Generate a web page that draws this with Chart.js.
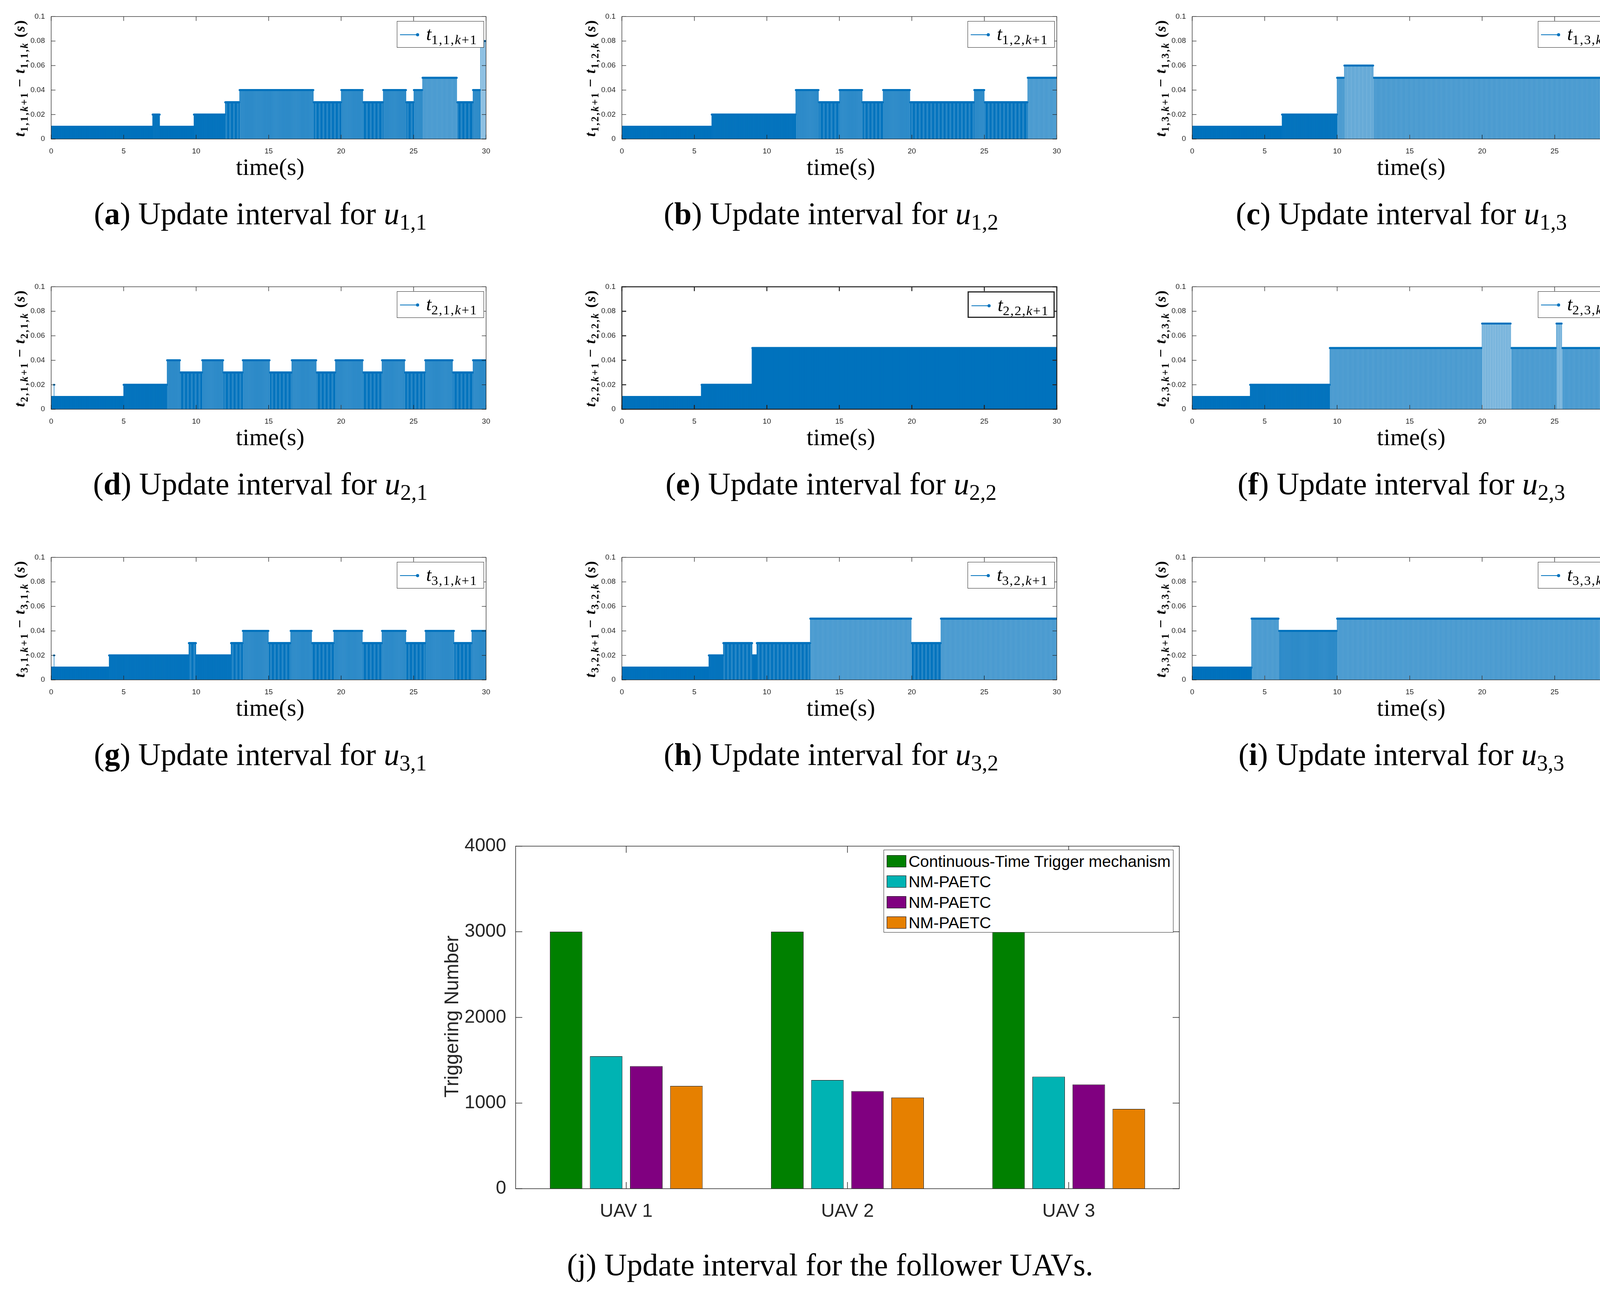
<!DOCTYPE html>
<html>
<head>
<meta charset="utf-8">
<script src="https://cdn.jsdelivr.net/npm/chart.js@4.4.0/dist/chart.umd.min.js"></script>
<style>
  body { margin: 0; background: #fff; }
  #page { position: relative; width: 4200px; height: 3306px; overflow: hidden; background: #fff; }
  .wrap { position: absolute; }
  .cap { position: absolute; transform: translate(-50%, -50%); white-space: nowrap;
         font-family: 'Liberation Serif', serif; font-size: 80px; line-height: 90px; color: #000; }
  .cap sub { font-size: 0.7em; vertical-align: -0.25em; }
  .xt { position: absolute; transform: translate(-50%, -50%); white-space: nowrap;
        font-family: 'Liberation Serif', serif; font-size: 62px; line-height: 70px; color: #000; }
  .yt { position: absolute; transform: translate(-50%, -50%) rotate(-90deg); white-space: nowrap;
        font-family: 'Liberation Serif', serif; font-weight: bold; font-size: 38px; line-height: 46px;
        letter-spacing: 2px; color: #000; }
  .yt sub { font-size: 0.7em; vertical-align: -0.3em; letter-spacing: 3px; }
  .leg { position: absolute; box-sizing: border-box; border: 1.5px solid #262626; background: #fff; }
  .leg .ln { position: absolute; left: 7px; top: 33px; width: 45px; height: 2px; background: #0072BD; }
  .leg .dot { position: absolute; left: 48px; top: 30px; width: 8px; height: 8px; border-radius: 50%; background: #0072BD; }
  .leg .tx { position: absolute; left: 74px; top: 4px; white-space: nowrap;
             font-family: 'Liberation Serif', serif; font-size: 48px; line-height: 56px; color: #000; }
  .leg .tx sub { font-size: 0.72em; vertical-align: -0.3em; letter-spacing: 2px; }
  .bleg { position: absolute; left: 2262px; top: 2176px; width: 742px; height: 212px; box-sizing: border-box;
          border: 1.5px solid #262626; background: #fff; }
  .bleg .row { position: absolute; left: 7px; height: 40px; }
  .bleg .sw { position: absolute; left: 0; top: 4px; width: 50px; height: 31px; box-sizing: border-box; border: 1.5px solid #000; }
  .bleg .lb { position: absolute; left: 56px; top: 0; white-space: nowrap;
              font-family: 'Liberation Sans', Arial, sans-serif; font-size: 41px; line-height: 40px; color: #000; }
  .btitle { position: absolute; transform: translate(-50%, -50%) rotate(-90deg); white-space: nowrap;
            font-family: 'Liberation Sans', Arial, sans-serif; font-size: 50px; line-height: 56px; color: #262626; }
</style>
</head>
<body>
<div id="page"></div>
<script>
// Stem panels: each segment starts at edges[i] (s) and keeps the update interval levels[i] (s)
const edges_u11 = [0, 7.0, 7.5, 9.85, 12.0, 13.0, 18.1, 20.0, 21.5, 22.9, 24.5, 25.0, 25.6, 28.0, 29.1, 29.6];
const levels_u11 = [0.01, 0.02, 0.01, 0.02, 0.03, 0.04, 0.03, 0.04, 0.03, 0.04, 0.03, 0.04, 0.05, 0.03, 0.04, 0.08];

const edges_u12 = [0, 6.2, 12.0, 13.6, 15.0, 16.6, 18.0, 19.9, 24.3, 25.0, 28.0];
const levels_u12 = [0.01, 0.02, 0.04, 0.03, 0.04, 0.03, 0.04, 0.03, 0.04, 0.03, 0.05];

const edges_u13 = [0, 6.2, 10.0, 10.5, 12.5];
const levels_u13 = [0.01, 0.02, 0.05, 0.06, 0.05];

const edges_u21 = [0, 0.2, 0.22, 5.0, 8.0, 8.9, 10.4, 11.9, 13.2, 15.1, 16.6, 18.3, 19.6, 21.5, 22.8, 24.4, 25.8, 27.7, 29.1];
const levels_u21 = [0.01, 0.02, 0.01, 0.02, 0.04, 0.03, 0.04, 0.03, 0.04, 0.03, 0.04, 0.03, 0.04, 0.03, 0.04, 0.03, 0.04, 0.03, 0.04];

const edges_u22 = [0, 5.5, 9.0];
const levels_u22 = [0.01, 0.02, 0.05];

const edges_u23 = [0, 4.0, 9.5, 20.0, 22.0, 25.1, 25.5];
const levels_u23 = [0.01, 0.02, 0.05, 0.07, 0.05, 0.07, 0.05];

const edges_u31 = [0, 0.2, 0.22, 4.0, 9.5, 10.0, 12.4, 13.2, 15.0, 16.5, 18.0, 19.5, 21.5, 22.8, 24.5, 25.8, 27.8, 29.0];
const levels_u31 = [0.01, 0.02, 0.01, 0.02, 0.03, 0.02, 0.03, 0.04, 0.03, 0.04, 0.03, 0.04, 0.03, 0.04, 0.03, 0.04, 0.03, 0.04];

const edges_u32 = [0, 6.0, 7.0, 9.0, 9.3, 13.0, 20.0, 22.0];
const levels_u32 = [0.01, 0.02, 0.03, 0.02, 0.03, 0.05, 0.03, 0.05];

const edges_u33 = [0, 4.1, 6.0, 10.0];
const levels_u33 = [0.01, 0.05, 0.04, 0.05];

const timeEnd = 30;
const xTicks = [0, 5, 10, 15, 20, 25, 30];
const yTicks = [0, 0.02, 0.04, 0.06, 0.08, 0.1];

// Bar chart (j)
const uavLabels = ["UAV 1", "UAV 2", "UAV 3"];
const seriesNames = ["Continuous-Time Trigger mechanism", "NM-PAETC", "NM-PAETC", "NM-PAETC"];
const continuousTrig = [3000, 3000, 3000];
const paetcA = [1547, 1269, 1308];
const paetcB = [1431, 1139, 1216];
const paetcC = [1199, 1065, 931];
const barTicks = [0, 1000, 2000, 3000, 4000];

const blue = "#0072BD";
const barColors = ["#008000", "#00B3B3", "#800080", "#E68000"];

// turn the interval segments into trigger events t_k with height t_{k+1} - t_k
function expandStems(edges, levels) {
	const stems = [{ x: 0, y: 0 }];
	let t = 0;
	for (let i = 0; i < levels.length; i++) {
		const end = i + 1 < edges.length ? edges[i + 1] : timeEnd;
		while (t < end - 1e-9) {
			stems.push({ x: t, y: levels[i] });
			t += levels[i];
		}
	}
	return stems;
}

// MATLAB style box with inward ticks on every side
const insideTicks = {
	id: "insideTicks",
	beforeDatasetsDraw(chart, args, opts) {
		if (opts.layer === "below") drawTicks(chart, opts);
	},
	afterDatasetsDraw(chart, args, opts) {
		if (opts.layer !== "below") drawTicks(chart, opts);
		const a = chart.chartArea;
		const ctx = chart.ctx;
		ctx.save();
		ctx.strokeStyle = "#262626";
		ctx.lineWidth = opts.width;
		ctx.strokeRect(a.left, a.top, a.right - a.left, a.bottom - a.top);
		ctx.restore();
	}
};

function drawTicks(chart, opts) {
	const { ctx, chartArea: a, scales } = chart;
	const L = opts.len;
	ctx.save();
	ctx.strokeStyle = "#262626";
	ctx.lineWidth = opts.width;
	ctx.beginPath();
	scales.x.ticks.forEach((t, i) => {
		const px = scales.x.getPixelForTick(i);
		ctx.moveTo(px, a.bottom);
		ctx.lineTo(px, a.bottom - L);
		ctx.moveTo(px, a.top);
		ctx.lineTo(px, a.top + L);
	});
	scales.y.ticks.forEach((t, i) => {
		const py = scales.y.getPixelForTick(i);
		ctx.moveTo(a.left, py);
		ctx.lineTo(a.left + L, py);
		ctx.moveTo(a.right, py);
		ctx.lineTo(a.right - L, py);
	});
	ctx.stroke();
	ctx.restore();
}

Chart.register(insideTicks);

const page = document.getElementById("page");

function addDiv(cls, html, left, top, style) {
	const d = document.createElement("div");
	d.className = cls;
	d.innerHTML = html;
	d.style.left = left + "px";
	d.style.top = top + "px";
	if (style) Object.assign(d.style, style);
	page.appendChild(d);
	return d;
}

/* ==============================
Stem panels (a) - (i)
=================================*/

const colLeft = [131, 1592, 3052];
const rowTop = [38, 730, 1423];
const plotW = 1121;
const plotH = 318;

const panels = [
	{ letter: "a", i: 1, j: 1, edges: edges_u11, levels: levels_u11 },
	{ letter: "b", i: 1, j: 2, edges: edges_u12, levels: levels_u12 },
	{ letter: "c", i: 1, j: 3, edges: edges_u13, levels: levels_u13 },
	{ letter: "d", i: 2, j: 1, edges: edges_u21, levels: levels_u21 },
	{ letter: "e", i: 2, j: 2, edges: edges_u22, levels: levels_u22, heavy: true },
	{ letter: "f", i: 2, j: 3, edges: edges_u23, levels: levels_u23 },
	{ letter: "g", i: 3, j: 1, edges: edges_u31, levels: levels_u31 },
	{ letter: "h", i: 3, j: 2, edges: edges_u32, levels: levels_u32 },
	{ letter: "i", i: 3, j: 3, edges: edges_u33, levels: levels_u33 }
];

panels.forEach((p, n) => {
	const pl = colLeft[n % 3];
	const pt = rowTop[Math.floor(n / 3)];
	const wrap = addDiv("wrap", "", pl - 80, pt - 15, { width: plotW + 95 + "px", height: plotH + 65 + "px" });
	const canvas = document.createElement("canvas");
	wrap.appendChild(canvas);
	const stems = expandStems(p.edges, p.levels);

	new Chart(canvas.getContext("2d"), {
		type: "bar",
		data: {
			datasets: [
				{
					type: "bar",
					data: stems,
					backgroundColor: blue,
					barThickness: p.heavy ? 2.6 : 0.65,
					borderWidth: 0
				},
				{
					type: "line",
					data: stems,
					showLine: false,
					pointRadius: 2.6,
					pointBorderWidth: 0,
					pointBackgroundColor: blue,
					pointHoverRadius: 0
				}
			]
		},
		options: {
			responsive: true,
			maintainAspectRatio: false,
			devicePixelRatio: 1,
			animation: false,
			events: [],
			layout: { padding: { top: 15, right: 15, left: 0, bottom: 0 } },
			plugins: {
				legend: { display: false },
				tooltip: { enabled: false },
				insideTicks: { len: 11, width: p.heavy ? 2.6 : 1.3 }
			},
			scales: {
				x: {
					type: "linear",
					min: 0,
					max: timeEnd,
					offset: false,
					grid: { display: false },
					border: { display: false },
					afterBuildTicks: s => { s.ticks = xTicks.map(v => ({ value: v })); },
					afterFit: s => { s.height = 50; },
					ticks: { padding: 12, color: "#262626", font: { family: "Liberation Sans", size: 19 } }
				},
				y: {
					min: 0,
					max: 0.1,
					grid: { display: false },
					border: { display: false },
					afterBuildTicks: s => { s.ticks = yTicks.map(v => ({ value: v })); },
					afterFit: s => { s.width = 80; },
					ticks: {
						padding: 8,
						color: "#262626",
						font: { family: "Liberation Sans", size: 19 },
						callback: v => String(+v.toFixed(2))
					}
				}
			}
		}
	});

	const sub = p.i + "," + p.j;
	// legend box
	const leg = addDiv("leg",
		'<div class="ln"></div><div class="dot"></div>' +
		'<div class="tx"><i>t</i><sub>' + sub + ",<i>k</i>+1</sub></div>",
		pl + plotW - 13 - 223, pt + 16, { width: "223px", height: "68px" });
	if (p.heavy) leg.style.borderWidth = "3px";

	addDiv("yt", "<i>t</i><sub>" + sub + ",<i>k</i>+1</sub> &minus; <i>t</i><sub>" + sub + ",<i>k</i></sub> (<i>s</i>)",
		pl - 75, pt + 162);
	addDiv("xt", "time(s)", pl + plotW / 2, pt + 389);
	addDiv("cap", "(<b>" + p.letter + "</b>) Update interval for <i>u</i><sub>" + sub + "</sub>",
		pl + plotW / 2 - 25, pt + 520);
});

/* ==============================
Bar chart (j)
=================================*/

const bl = 1320, bt = 2162, bw = 1699, bh = 882;
const bwrap = addDiv("wrap", "", bl - 130, bt - 40, { width: bw + 155 + "px", height: bh + 120 + "px" });
const bcanvas = document.createElement("canvas");
bwrap.appendChild(bcanvas);

const barSeries = [continuousTrig, paetcA, paetcB, paetcC];

new Chart(bcanvas.getContext("2d"), {
	type: "bar",
	data: {
		labels: uavLabels,
		datasets: barSeries.map((d, k) => ({
			label: seriesNames[k],
			data: d,
			backgroundColor: barColors[k],
			borderColor: "#000",
			borderWidth: 1.2,
			categoryPercentage: 0.725,
			barPercentage: 0.81
		}))
	},
	options: {
		responsive: true,
		maintainAspectRatio: false,
		devicePixelRatio: 1,
		animation: false,
		events: [],
		layout: { padding: { top: 40, right: 25, left: 0, bottom: 0 } },
		plugins: {
			legend: { display: false },
			tooltip: { enabled: false },
			insideTicks: { len: 17, width: 1.5, layer: "below" }
		},
		scales: {
			x: {
				grid: { display: false },
				border: { display: false },
				afterFit: s => { s.height = 80; },
				ticks: { padding: 22, color: "#262626", font: { family: "Liberation Sans", size: 48 } }
			},
			y: {
				min: 0,
				max: 4000,
				grid: { display: false },
				border: { display: false },
				afterBuildTicks: s => { s.ticks = barTicks.map(v => ({ value: v })); },
				afterFit: s => { s.width = 130; },
				ticks: {
					padding: 16,
					color: "#262626",
					font: { family: "Liberation Sans", size: 48 },
					callback: v => String(v)
				}
			}
		}
	}
});

// legend inside the axes, top right
let legHtml = "";
seriesNames.forEach((name, k) => {
	legHtml += '<div class="row" style="top:' + (9 + k * 52.4) + 'px">' +
		'<div class="sw" style="background:' + barColors[k] + '"></div>' +
		'<div class="lb">' + name + "</div></div>";
});
addDiv("bleg", legHtml, 2262, 2176);

addDiv("btitle", "Triggering Number", 1156, 2603);
addDiv("cap", "(j) Update interval for the follower UAVs.", 2125, 3239);
</script>
</body>
</html>
